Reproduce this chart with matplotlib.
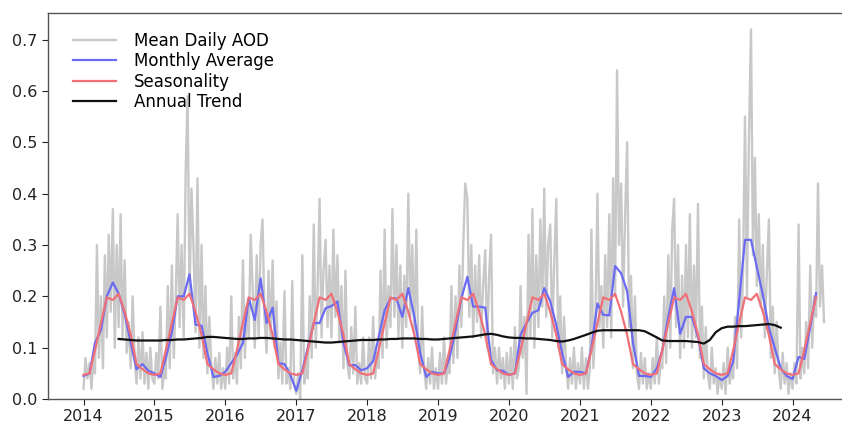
import matplotlib
matplotlib.use("Agg")
import matplotlib.pyplot as plt
import pandas as pd

# ---- Daily AOD (sampled ~every 10 days: days 1, 11, 21 of each month) ----
daily_2014 = [0.02, 0.08, 0.04, 0.07, 0.02, 0.08, 0.05, 0.30, 0.08, 0.20, 0.06, 0.28,
              0.12, 0.32, 0.17, 0.37, 0.10, 0.30, 0.14, 0.36, 0.12, 0.27, 0.09, 0.15,
              0.06, 0.20, 0.08, 0.03, 0.12, 0.04, 0.13, 0.03, 0.09, 0.02, 0.10, 0.04]
daily_2015 = [0.03, 0.09, 0.04, 0.18, 0.02, 0.06, 0.04, 0.22, 0.06, 0.26, 0.08, 0.20,
              0.36, 0.14, 0.30, 0.12, 0.44, 0.59, 0.20, 0.41, 0.30, 0.13, 0.43, 0.10,
              0.30, 0.08, 0.22, 0.05, 0.16, 0.07, 0.02, 0.08, 0.03, 0.09, 0.02, 0.06]
daily_2016 = [0.02, 0.10, 0.03, 0.20, 0.04, 0.09, 0.03, 0.16, 0.06, 0.27, 0.08, 0.18,
              0.12, 0.32, 0.22, 0.10, 0.28, 0.12, 0.30, 0.35, 0.16, 0.09, 0.25, 0.12,
              0.27, 0.10, 0.19, 0.04, 0.11, 0.03, 0.21, 0.03, 0.06, 0.02, 0.23, 0.03]
daily_2017 = [0.01, 0.05, 0.00, 0.28, 0.03, 0.08, 0.04, 0.20, 0.08, 0.34, 0.10, 0.22,
              0.39, 0.12, 0.25, 0.31, 0.14, 0.26, 0.12, 0.33, 0.16, 0.28, 0.11, 0.22,
              0.06, 0.25, 0.07, 0.04, 0.14, 0.05, 0.18, 0.03, 0.07, 0.03, 0.12, 0.04]
daily_2018 = [0.03, 0.12, 0.04, 0.16, 0.04, 0.09, 0.06, 0.25, 0.08, 0.33, 0.10, 0.22,
              0.14, 0.37, 0.16, 0.30, 0.12, 0.26, 0.10, 0.24, 0.14, 0.40, 0.16, 0.30,
              0.12, 0.33, 0.10, 0.05, 0.18, 0.06, 0.02, 0.08, 0.03, 0.10, 0.02, 0.06]
daily_2019 = [0.02, 0.09, 0.03, 0.12, 0.03, 0.07, 0.05, 0.22, 0.07, 0.20, 0.08, 0.26,
              0.14, 0.30, 0.42, 0.39, 0.16, 0.30, 0.12, 0.26, 0.15, 0.28, 0.12, 0.22,
              0.29, 0.10, 0.24, 0.32, 0.05, 0.10, 0.03, 0.10, 0.04, 0.08, 0.02, 0.09]
daily_2020 = [0.03, 0.10, 0.02, 0.14, 0.04, 0.06, 0.22, 0.08, 0.16, 0.01, 0.32, 0.12,
              0.37, 0.10, 0.28, 0.14, 0.35, 0.18, 0.41, 0.16, 0.30, 0.34, 0.12, 0.26,
              0.39, 0.10, 0.20, 0.05, 0.16, 0.07, 0.02, 0.08, 0.03, 0.10, 0.02, 0.07]
daily_2021 = [0.03, 0.10, 0.02, 0.08, 0.02, 0.06, 0.33, 0.06, 0.14, 0.40, 0.14, 0.22,
              0.10, 0.28, 0.14, 0.36, 0.12, 0.43, 0.20, 0.64, 0.30, 0.42, 0.18, 0.35,
              0.50, 0.14, 0.24, 0.06, 0.20, 0.05, 0.02, 0.09, 0.03, 0.08, 0.02, 0.05]
daily_2022 = [0.02, 0.08, 0.03, 0.12, 0.03, 0.07, 0.06, 0.20, 0.07, 0.28, 0.10, 0.33,
              0.39, 0.14, 0.30, 0.08, 0.24, 0.10, 0.30, 0.12, 0.36, 0.10, 0.26, 0.12,
              0.38, 0.08, 0.18, 0.04, 0.14, 0.05, 0.02, 0.10, 0.03, 0.06, 0.01, 0.05]
daily_2023 = [0.02, 0.07, 0.01, 0.10, 0.03, 0.06, 0.04, 0.16, 0.06, 0.35, 0.12, 0.25,
              0.55, 0.20, 0.50, 0.72, 0.28, 0.47, 0.22, 0.36, 0.18, 0.30, 0.12, 0.24,
              0.35, 0.08, 0.18, 0.05, 0.15, 0.06, 0.02, 0.09, 0.03, 0.07, 0.01, 0.05]
daily_2024 = [0.02, 0.07, 0.03, 0.34, 0.04, 0.10, 0.05, 0.15, 0.06, 0.26, 0.10, 0.20,
              0.16, 0.42, 0.18, 0.26, 0.15]

# ---- Monthly average (Jan 2014 - May 2024) ----
monthly_avg = [
    0.045, 0.050, 0.109, 0.135, 0.200, 0.227, 0.205, 0.165, 0.110, 0.058, 0.068, 0.055,  # 2014
    0.050, 0.043, 0.080, 0.130, 0.200, 0.200, 0.243, 0.145, 0.143, 0.090, 0.043, 0.045,  # 2015
    0.053, 0.070, 0.086, 0.109, 0.197, 0.154, 0.235, 0.148, 0.178, 0.070, 0.068, 0.047,  # 2016
    0.016, 0.056, 0.100, 0.148, 0.148, 0.177, 0.181, 0.190, 0.109, 0.066, 0.066, 0.056,  # 2017
    0.060, 0.074, 0.120, 0.173, 0.196, 0.196, 0.160, 0.216, 0.160, 0.090, 0.043, 0.053,  # 2018
    0.050, 0.050, 0.080, 0.134, 0.196, 0.238, 0.180, 0.180, 0.178, 0.076, 0.056, 0.055,  # 2019
    0.047, 0.050, 0.125, 0.148, 0.168, 0.173, 0.216, 0.190, 0.144, 0.090, 0.043, 0.053,  # 2020
    0.053, 0.050, 0.100, 0.186, 0.164, 0.163, 0.259, 0.245, 0.210, 0.110, 0.045, 0.045,  # 2021
    0.043, 0.060, 0.095, 0.160, 0.216, 0.127, 0.160, 0.160, 0.121, 0.060, 0.050, 0.045,  # 2022
    0.037, 0.045, 0.073, 0.193, 0.310, 0.310, 0.257, 0.203, 0.138, 0.100, 0.060, 0.045,  # 2023
    0.039, 0.082, 0.078, 0.140, 0.206,                                                  # 2024
]

# ---- Seasonal profile (Jan..Dec), repeated each year ----
season_profile = [0.047, 0.050, 0.095, 0.148, 0.198, 0.193, 0.205, 0.170, 0.125, 0.068, 0.058, 0.050]

# ---- Annual trend (Jul 2014 - Nov 2023) ----
annual_trend = [
    0.117, 0.116, 0.115, 0.114, 0.114, 0.114,                                            # 2014 H2
    0.114, 0.114, 0.115, 0.115, 0.116, 0.116, 0.117, 0.118, 0.119, 0.121, 0.121, 0.120,  # 2015
    0.119, 0.118, 0.117, 0.117, 0.118, 0.118, 0.119, 0.119, 0.118, 0.117, 0.116, 0.116,  # 2016
    0.115, 0.114, 0.113, 0.112, 0.111, 0.110, 0.110, 0.111, 0.112, 0.113, 0.114, 0.115,  # 2017
    0.115, 0.115, 0.116, 0.116, 0.117, 0.117, 0.118, 0.118, 0.118, 0.117, 0.117, 0.116,  # 2018
    0.116, 0.117, 0.118, 0.119, 0.120, 0.121, 0.122, 0.124, 0.126, 0.127, 0.125, 0.122,  # 2019
    0.120, 0.119, 0.119, 0.118, 0.118, 0.117, 0.116, 0.115, 0.113, 0.112, 0.114, 0.117,  # 2020
    0.121, 0.125, 0.129, 0.133, 0.134, 0.134, 0.134, 0.134, 0.134, 0.134, 0.134, 0.132,  # 2021
    0.126, 0.120, 0.114, 0.113, 0.113, 0.113, 0.113, 0.112, 0.111, 0.108, 0.115, 0.130,  # 2022
    0.138, 0.141, 0.141, 0.142, 0.142, 0.143, 0.144, 0.145, 0.146, 0.144, 0.139,         # 2023
]

year_ticks = list(range(2014, 2025))
y_ticks = [0.0, 0.1, 0.2, 0.3, 0.4, 0.5, 0.6, 0.7]

# ---- Build dates ----
daily_years = {2014: daily_2014, 2015: daily_2015, 2016: daily_2016, 2017: daily_2017,
               2018: daily_2018, 2019: daily_2019, 2020: daily_2020, 2021: daily_2021,
               2022: daily_2022, 2023: daily_2023, 2024: daily_2024}
daily_dates, daily_vals = [], []
for yr, vals in daily_years.items():
    ds = [pd.Timestamp(yr, m, d) for m in range(1, 13) for d in (1, 11, 21)]
    daily_dates += ds[:len(vals)]
    daily_vals += vals

monthly_dates = pd.date_range("2014-01-01", periods=len(monthly_avg), freq="MS")
seasonality = [season_profile[d.month - 1] for d in monthly_dates]
trend_dates = pd.date_range("2014-07-01", periods=len(annual_trend), freq="MS")

# ---- Plot ----
plt.rcParams["font.family"] = ["DejaVu Sans"]
fig = plt.figure(figsize=(8.42, 4.30), dpi=100)
ax = fig.add_axes([0.057, 0.072, 0.95, 0.898])

ax.plot(daily_dates, daily_vals, color="#c8c8c8", lw=1.7, label="Mean Daily AOD")
ax.plot(monthly_dates, monthly_avg, color="#6a6af2", lw=1.6, label="Monthly Average")
ax.plot(monthly_dates, seasonality, color="#f07078", lw=1.6, label="Seasonality")
ax.plot(trend_dates, annual_trend, color="#111111", lw=1.6, label="Annual Trend")

ax.set_xlim(pd.Timestamp("2013-07-02"), pd.Timestamp("2024-10-12"))
ax.set_ylim(0, 0.752)
ax.set_xticks([pd.Timestamp(y, 1, 1) for y in year_ticks])
ax.set_xticklabels([str(y) for y in year_ticks])
ax.set_yticks(y_ticks)
ax.set_yticklabels([f"{v:.1f}" for v in y_ticks])
ax.tick_params(labelsize=11.5, length=4, width=0.8, colors="#222222")
for s in ["left", "bottom", "top"]:
    ax.spines[s].set_color("#555555")
    ax.spines[s].set_linewidth(1.0)
ax.spines["right"].set_visible(False)

ax.legend(loc="upper left", bbox_to_anchor=(0.012, 0.99), frameon=False, fontsize=12,
          handlelength=2.6, labelspacing=0.15, handletextpad=1.1)

fig.savefig("out.png", dpi=100)
